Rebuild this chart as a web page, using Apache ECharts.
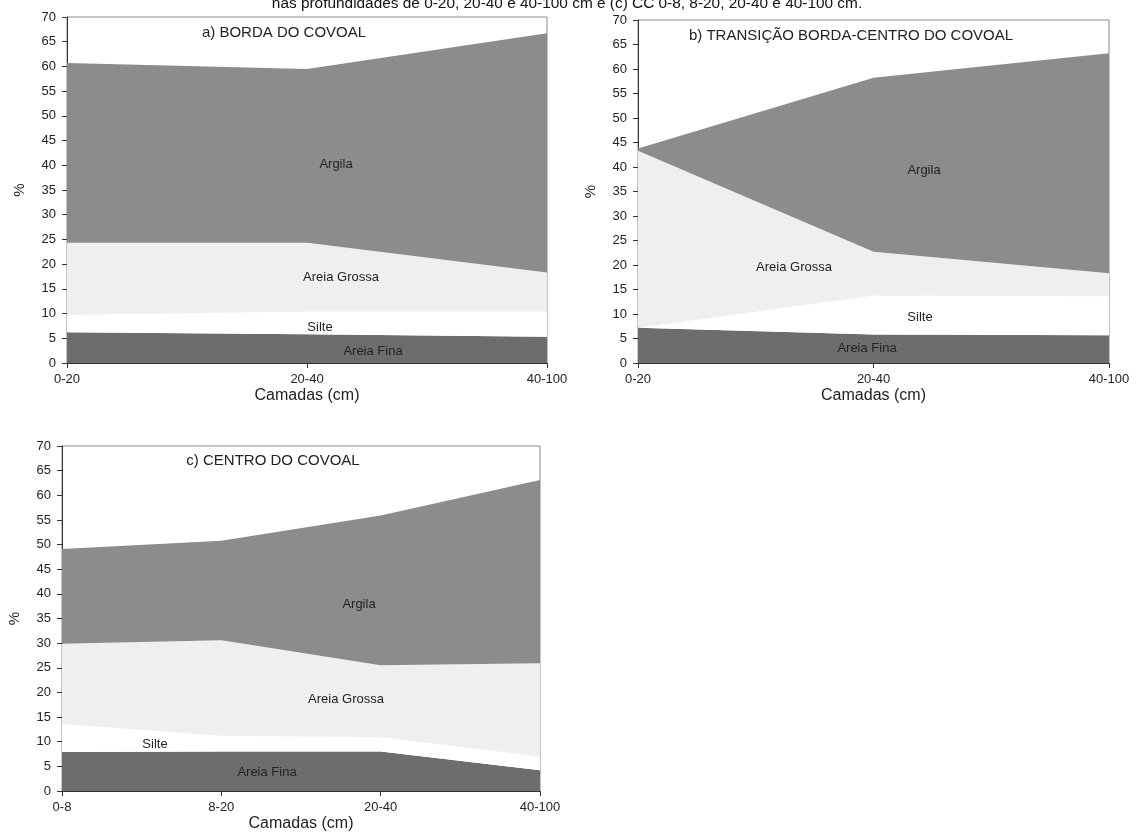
<!DOCTYPE html>
<html>
<head>
<meta charset="utf-8">
<script src="https://cdn.jsdelivr.net/npm/echarts@6/dist/echarts.min.js"></script>
<style>
html,body{margin:0;padding:0;background:#fff;}
#chart{width:1138px;height:833px;}
</style>
</head>
<body>
<div id="chart"></div>
<script>
// Categories
const catsAB = ['0-20', '20-40', '40-100'];
const catsC = ['0-8', '8-20', '20-40', '40-100'];
const yTicks = [0, 5, 10, 15, 20, 25, 30, 35, 40, 45, 50, 55, 60, 65, 70];

// Panel a) BORDA DO COVOAL (layer thicknesses, stacked bottom to top)
const aFina   = [6.2, 5.8, 5.3];
const aSilte  = [3.5, 4.6, 5.1];
const aGrossa = [14.65, 13.95, 7.9];
const aArgila = [36.35, 35.15, 48.4];

// Panel b) TRANSIÇÃO BORDA-CENTRO DO COVOAL
const bFina   = [7.2, 5.8, 5.65];
const bSilte  = [0.0, 8.0, 7.95];
const bGrossa = [36.1, 8.9, 4.7];
const bArgila = [0.5, 35.5, 44.9];

// Panel c) CENTRO DO COVOAL
const cFina   = [7.9, 8.0, 8.0, 4.2];
const cSilte  = [5.7, 3.2, 2.9, 2.8];
const cGrossa = [16.3, 19.4, 14.6, 18.9];
const cArgila = [19.2, 20.2, 30.4, 37.2];

const FONT = 'Liberation Sans, Arial, sans-serif';
const colors = { fina: '#6d6d6d', silte: '#ffffff', grossa: '#efefef', argila: '#8c8c8c' };

const grids = [
  { left: 67, top: 17, width: 480, height: 346 },
  { left: 638, top: 20, width: 471, height: 343 },
  { left: 62, top: 446, width: 478, height: 346 }
];

function xAxis(i, cats) {
  return {
    type: 'category', gridIndex: i, data: cats, boundaryGap: false,
    name: 'Camadas (cm)', nameLocation: 'middle', nameGap: 25,
    nameTextStyle: { fontFamily: FONT, fontSize: 16, color: '#222' },
    axisLine: { lineStyle: { color: '#333', width: 1 } },
    axisTick: { show: true, inside: false, length: 5, alignWithLabel: true, lineStyle: { color: '#333' } },
    axisLabel: { fontFamily: FONT, fontSize: 13, color: '#222', margin: 10, interval: 0 },
    splitLine: { show: false }
  };
}
function yAxis(i) {
  return {
    type: 'value', gridIndex: i, min: yTicks[0], max: yTicks[yTicks.length - 1], interval: 5,
    name: '%', nameLocation: 'middle', nameGap: 40, nameRotate: 90,
    nameTextStyle: { fontFamily: FONT, fontSize: 15, color: '#222' },
    axisLine: { show: true, lineStyle: { color: '#333', width: 1 } },
    axisTick: { show: true, inside: false, length: 5, lineStyle: { color: '#333' } },
    axisLabel: { fontFamily: FONT, fontSize: 13, color: '#222', margin: 11 },
    splitLine: { show: false }
  };
}
function layer(i, name, data, color) {
  return {
    type: 'line', name: name, xAxisIndex: i, yAxisIndex: i, stack: 'g' + i,
    data: data, symbol: 'none', smooth: false, silent: true,
    lineStyle: { width: 0, opacity: 0 },
    areaStyle: { color: color, opacity: 1 },
    z: 2
  };
}

const series = [];
[[aFina, aSilte, aGrossa, aArgila], [bFina, bSilte, bGrossa, bArgila], [cFina, cSilte, cGrossa, cArgila]]
  .forEach((p, i) => {
    series.push(layer(i, 'Areia Fina', p[0], colors.fina));
    series.push(layer(i, 'Silte', p[1], colors.silte));
    series.push(layer(i, 'Areia Grossa', p[2], colors.grossa));
    series.push(layer(i, 'Argila', p[3], colors.argila));
  });

function txt(x, y, s, size) {
  return { type: 'text', x: x, y: y, z: 100, silent: true,
    style: { text: s, fontFamily: FONT, fontSize: size, fill: '#222', align: 'center', verticalAlign: 'middle' } };
}

const graphic = [
  { type: 'text', x: 567, y: 11, z: 100, style: { text: 'nas profundidades de 0-20, 20-40 e 40-100 cm e (c) CC 0-8, 8-20, 20-40 e 40-100 cm.', fontFamily: FONT, fontSize: 15.4, fill: '#111', align: 'center', verticalAlign: 'bottom' } },
  txt(284, 33, 'a) BORDA DO COVOAL', 15),
  txt(336, 164, 'Argila', 13),
  txt(341, 277, 'Areia Grossa', 13),
  txt(320, 327, 'Silte', 13),
  txt(373, 351, 'Areia Fina', 13),
  txt(851, 36, 'b) TRANSIÇÃO BORDA-CENTRO DO COVOAL', 15),
  txt(924, 170, 'Argila', 13),
  txt(794, 267, 'Areia Grossa', 13),
  txt(920, 317, 'Silte', 13),
  txt(867, 348, 'Areia Fina', 13),
  txt(273, 461, 'c) CENTRO DO COVOAL', 15),
  txt(359, 604, 'Argila', 13),
  txt(346, 699, 'Areia Grossa', 13),
  txt(155, 744, 'Silte', 13),
  txt(267, 772, 'Areia Fina', 13)
];

const chart = echarts.init(document.getElementById('chart'), null, { renderer: 'canvas' });
chart.setOption({
  animation: false,
  backgroundColor: '#fff',
  grid: grids.map(g => Object.assign({ show: true, borderColor: '#8a8a8a', borderWidth: 1, backgroundColor: 'transparent', containLabel: false }, g)),
  xAxis: [xAxis(0, catsAB), xAxis(1, catsAB), xAxis(2, catsC)],
  yAxis: [yAxis(0), yAxis(1), yAxis(2)],
  series: series,
  graphic: graphic
});
</script>
</body>
</html>
